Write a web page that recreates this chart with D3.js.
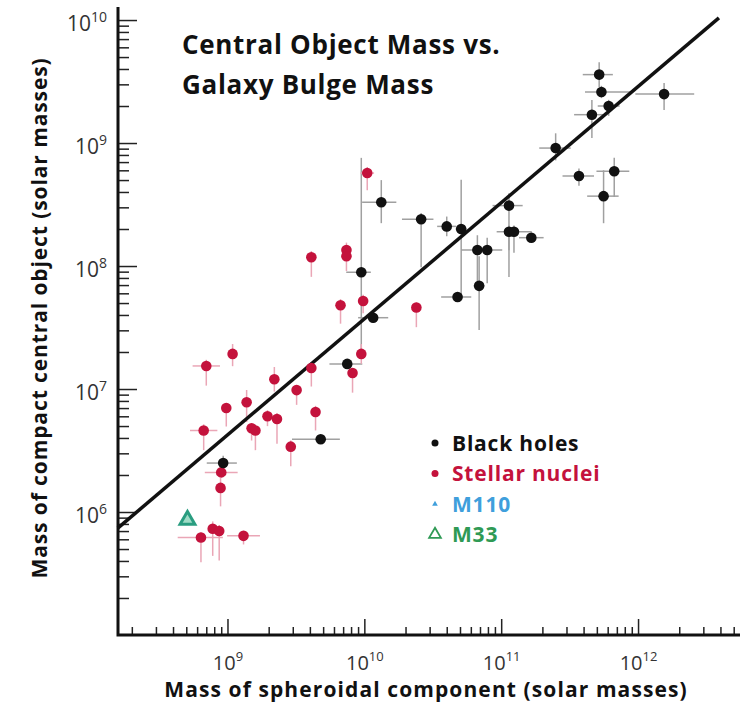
<!DOCTYPE html>
<html lang="en">
  <head>
    <meta charset="utf-8">
    <title>Central Object Mass vs. Galaxy Bulge Mass</title>
    <script src="https://d3js.org/d3.v7.js"></script>
    <style>
      body { margin: 0; background: #fff; }
      text { font-family: "Open Sans", "DejaVu Sans", sans-serif; }
    </style>
  </head>

  <body>
  <script>

// data: [mass of spheroid, mass of central object, x err low, x err high, y err low, y err high]
// errors are in dex (log10 units)

  var blackHoles = [
    [5.2e11, 3.6e9, 0.12, 0.10, 0.10, 0.10],
    [5.4e11, 2.6e9, 0.12, 0.23, 0.05, 0.05],
    [6.1e11, 2.0e9, 0.08, 0.08, 0.08, 0.05],
    [4.6e11, 1.7e9, 0.13, 0.10, 0.19, 0.12],
    [1.55e12, 2.5e9, 0.21, 0.22, 0.13, 0.09],
    [2.5e11, 9.1e8, 0.12, 0.11, 0.10, 0.12],
    [3.7e11, 5.4e8, 0.12, 0.11, 0.08, 0.06],
    [6.7e11, 5.9e8, 0.13, 0.11, 0.21, 0.11],
    [5.6e11, 3.7e8, 0.12, 0.11, 0.22, 0.21],
    [1.14e11, 3.1e8, 0.12, 0.10, 0.58, 0.10],
    [1.14e11, 1.9e8, 0.09, 0.05, 0.15, 0.05],
    [1.24e11, 1.9e8, 0.05, 0.13, 0.17, 0.05],
    [1.66e11, 1.7e8, 0.09, 0.09, 0.04, 0.04],
    [2.6e10, 2.4e8, 0.14, 0.09, 0.39, 0.05],
    [4.0e10, 2.1e8, 0.07, 0.07, 0.08, 0.08],
    [5.1e10, 2.0e8, 0.04, 0.04, 0.56, 0.40],
    [6.7e10, 1.35e8, 0.12, 0.04, 0.30, 0.12],
    [7.9e10, 1.35e8, 0.04, 0.11, 0.27, 0.10],
    [6.9e10, 6.9e7, 0.04, 0.04, 0.36, 0.24],
    [4.8e10, 5.6e7, 0.12, 0.10, 0.04, 0.04],
    [1.33e10, 3.3e8, 0.14, 0.11, 0.17, 0.18],
    [9.5e9, 8.9e7, 0.11, 0.07, 0.63, 0.93],
    [1.16e10, 3.8e7, 0.11, 0.11, 0.04, 0.04],
    [7.5e9, 1.6e7, 0.13, 0.11, 0.04, 0.04],
    [4.8e9, 3.9e6, 0.21, 0.14, 0.03, 0.03],
    [9.3e8, 2.5e6, 0.12, 0.10, 0.06, 0.06]
  ];

  var stellarNuclei = [
    [1.05e10, 5.7e8, 0.05, 0.05, 0.14, 0.05],
    [4.1e9, 1.18e8, 0.03, 0.03, 0.16, 0.05],
    [7.4e9, 1.35e8, 0.03, 0.03, 0.05, 0.06],
    [7.4e9, 1.2e8, 0.03, 0.03, 0.12, 0.03],
    [6.7e9, 4.8e7, 0.03, 0.03, 0.15, 0.05],
    [9.8e9, 5.2e7, 0.03, 0.03, 0.10, 0.05],
    [2.4e10, 4.6e7, 0.03, 0.03, 0.16, 0.04],
    [9.5e9, 1.93e7, 0.03, 0.03, 0.08, 0.08],
    [8.2e9, 1.35e7, 0.03, 0.03, 0.16, 0.04],
    [4.1e9, 1.48e7, 0.03, 0.03, 0.15, 0.05],
    [3.2e9, 9.8e6, 0.03, 0.03, 0.12, 0.04],
    [4.4e9, 6.5e6, 0.03, 0.03, 0.15, 0.05],
    [2.9e9, 3.4e6, 0.03, 0.03, 0.16, 0.05],
    [2.2e9, 1.2e7, 0.03, 0.03, 0.10, 0.10],
    [1.38e9, 7.8e6, 0.03, 0.03, 0.16, 0.10],
    [9.8e8, 7.0e6, 0.03, 0.03, 0.15, 0.04],
    [1.96e9, 6.0e6, 0.03, 0.03, 0.08, 0.05],
    [2.3e9, 5.7e6, 0.03, 0.03, 0.20, 0.05],
    [1.5e9, 4.8e6, 0.03, 0.03, 0.10, 0.04],
    [1.6e9, 4.6e6, 0.03, 0.03, 0.16, 0.04],
    [7.0e8, 1.54e7, 0.10, 0.10, 0.16, 0.05],
    [1.09e9, 1.93e7, 0.03, 0.03, 0.10, 0.08],
    [6.7e8, 4.6e6, 0.10, 0.10, 0.16, 0.05],
    [9.0e8, 2.1e6, 0.12, 0.12, 0.04, 0.04],
    [8.9e8, 1.57e6, 0.03, 0.03, 0.15, 0.08],
    [7.8e8, 7.3e5, 0.03, 0.03, 0.22, 0.06],
    [8.7e8, 7.0e5, 0.03, 0.03, 0.24, 0.05],
    [6.4e8, 6.2e5, 0.17, 0.16, 0.20, 0.04],
    [1.31e9, 6.4e5, 0.12, 0.12, 0.07, 0.04]
  ];

  var m33 = [[5.1e8, 8.6e5]];

  // best fit line endpoints
  var fitX = [1.58e8, 3.9e12];
  var fitY = [7.4e5, 1.04e10];

  var xMajor = [1e9, 1e10, 1e11, 1e12];
  var xMajorExp = ["9", "10", "11", "12"];
  var yMajor = [1e6, 1e7, 1e8, 1e9, 1e10];
  var yMajorExp = ["6", "7", "8", "9", "10"];

  var legendLabels = ["Black holes", "Stellar nuclei", "M110", "M33"];
  var legendColors = ["#111111", "#c4123c", "#3f9fdc", "#2f9a55"];

  var titleLines = ["Central Object Mass vs.", "Galaxy Bulge Mass"];

// svg and scales

  var w = 743;
  var h = 703;

  var svg = d3.select("body")
    .append("svg")
      .attr("width", w)
      .attr("height", h);

  var xScale = d3.scaleLog()
      .domain([Math.pow(10, 8.2), Math.pow(10, 12.745)])
      .range([118, 740]);

  var yScale = d3.scaleLog()
      .domain([1e5, Math.pow(10, 10.106)])
      .range([635, 7]);

  function minorTicks(lo, hi) {
    var t = [];
    for (var e = lo; e <= hi; e++) {
      for (var m = 2; m <= 9; m++) t.push(m * Math.pow(10, e));
    }
    return t;
  }

  var xMinor = minorTicks(8, 12).filter(v => v >= xScale.domain()[0] && v <= xScale.domain()[1]);
  var yMinor = minorTicks(5, 9).filter(v => v <= yScale.domain()[1]);

// axes (ticks point inward)

  function styleAxis(g) {
    g.select(".domain").remove();
    g.selectAll("line").attr("stroke", "#222").attr("stroke-width", 1.5);
    g.selectAll("text").remove();
  }

  svg.append("g")
      .attr("transform", "translate(0,635)")
      .call(d3.axisBottom(xScale).tickValues(xMinor).tickSize(-8))
      .call(styleAxis);

  var xMaj = svg.append("g")
      .attr("transform", "translate(0,635)")
      .call(d3.axisBottom(xScale).tickValues(xMajor).tickSize(-16))
      .call(styleAxis);

  svg.append("g")
      .attr("transform", "translate(118,0)")
      .call(d3.axisLeft(yScale).tickValues(yMinor).tickSize(-11))
      .call(styleAxis);

  var yMaj = svg.append("g")
      .attr("transform", "translate(118,0)")
      .call(d3.axisLeft(yScale).tickValues(yMajor).tickSize(-19))
      .call(styleAxis);

  // tick labels with superscripts
  xMaj.selectAll(".tick").each(function(d, i) {
    var t = d3.select(this).append("text")
        .attr("y", 35)
        .attr("text-anchor", "middle")
        .attr("fill", "#333")
        .style("font-size", "20px");
    t.append("tspan").text("10");
    t.append("tspan").attr("dy", -9).style("font-size", "13px").text(xMajorExp[i]);
  });

  yMaj.selectAll(".tick").each(function(d, i) {
    var t = d3.select(this).append("text")
        .attr("x", -11)
        .attr("y", 10)
        .attr("text-anchor", "end")
        .attr("fill", "#333")
        .style("font-size", "21px");
    t.append("tspan").text("10");
    t.append("tspan").attr("dy", -9).style("font-size", "14px").text(yMajorExp[i]);
  });

  // axis lines
  svg.append("path")
      .attr("d", "M118,7V635H740")
      .attr("fill", "none")
      .attr("stroke", "#111")
      .attr("stroke-width", 3);

// axis titles

  svg.append("text")
      .attr("x", 426)
      .attr("y", 697)
      .attr("text-anchor", "middle")
      .attr("fill", "#111")
      .style("font-size", "21px")
      .style("letter-spacing", "1.1px")
      .style("font-weight", "bold")
      .text("Mass of spheroidal component (solar masses)");

  svg.append("text")
      .attr("transform", "translate(47,318) rotate(-90)")
      .attr("text-anchor", "middle")
      .attr("fill", "#111")
      .style("font-size", "21px")
      .style("letter-spacing", "0.9px")
      .style("font-weight", "bold")
      .text("Mass of compact central object (solar masses)");

// title

  svg.selectAll(".title")
    .data(titleLines)
    .enter().append("text")
      .attr("class", "title")
      .attr("x", 182)
      .attr("y", (d, i) => 54 + i * 40)
      .attr("fill", "#111")
      .style("font-size", "26px")
      .style("letter-spacing", "0.7px")
      .style("font-weight", "bold")
      .text(d => d);

// error bars

  function errorBars(data, color) {
    var g = svg.append("g");
    g.selectAll(".ex")
      .data(data)
      .enter().append("line")
        .attr("x1", d => xScale(d[0] / Math.pow(10, d[2])))
        .attr("x2", d => xScale(d[0] * Math.pow(10, d[3])))
        .attr("y1", d => yScale(d[1]))
        .attr("y2", d => yScale(d[1]))
        .attr("stroke", color)
        .attr("stroke-width", 1.5);
    g.selectAll(".ey")
      .data(data)
      .enter().append("line")
        .attr("x1", d => xScale(d[0]))
        .attr("x2", d => xScale(d[0]))
        .attr("y1", d => yScale(d[1] / Math.pow(10, d[4])))
        .attr("y2", d => yScale(d[1] * Math.pow(10, d[5])))
        .attr("stroke", color)
        .attr("stroke-width", 1.5);
  }

  errorBars(blackHoles, "#a0a0a0");
  errorBars(stellarNuclei, "#eaa6b6");

// fit line

  svg.append("line")
      .attr("x1", xScale(fitX[0]))
      .attr("y1", yScale(fitY[0]))
      .attr("x2", xScale(fitX[1]))
      .attr("y2", yScale(fitY[1]))
      .attr("stroke", "#111")
      .attr("stroke-width", 3.5);

// points

  svg.append("g")
    .selectAll("circle")
    .data(stellarNuclei)
    .enter().append("circle")
      .attr("cx", d => xScale(d[0]))
      .attr("cy", d => yScale(d[1]))
      .attr("r", 5.3)
      .attr("fill", legendColors[1]);

  svg.append("g")
    .selectAll("circle")
    .data(blackHoles)
    .enter().append("circle")
      .attr("cx", d => xScale(d[0]))
      .attr("cy", d => yScale(d[1]))
      .attr("r", 5.3)
      .attr("fill", legendColors[0]);

  svg.append("g")
    .selectAll("path")
    .data(m33)
    .enter().append("path")
      .attr("transform", d => `translate(${xScale(d[0])},${yScale(d[1])})`)
      .attr("d", d3.symbol().type(d3.symbolTriangle).size(95))
      .attr("fill", "#9fdcc6")
      .attr("stroke", "#2a9d80")
      .attr("stroke-width", 3);

// legend

  var legend = svg.append("g")
      .attr("transform", "translate(435,443)");

  legendLabels.forEach(function(label, i) {
    var row = legend.append("g").attr("transform", `translate(0,${i * 30.5})`);
    if (i < 2) {
      row.append("circle").attr("r", 3.5).attr("fill", legendColors[i]);
    } else if (i == 2) {
      row.append("path")
          .attr("d", d3.symbol().type(d3.symbolTriangle).size(14))
          .attr("fill", legendColors[i]);
    } else {
      row.append("path")
          .attr("d", d3.symbol().type(d3.symbolTriangle).size(60))
          .attr("fill", "none")
          .attr("stroke", legendColors[i])
          .attr("stroke-width", 1.8);
    }
    row.append("text")
        .attr("x", 17)
        .attr("y", 7.5)
        .attr("fill", legendColors[i])
        .style("font-size", "21px")
        .style("letter-spacing", "0.8px")
        .style("font-weight", "bold")
        .text(label);
  });

  </script>
  </body>
</html>
